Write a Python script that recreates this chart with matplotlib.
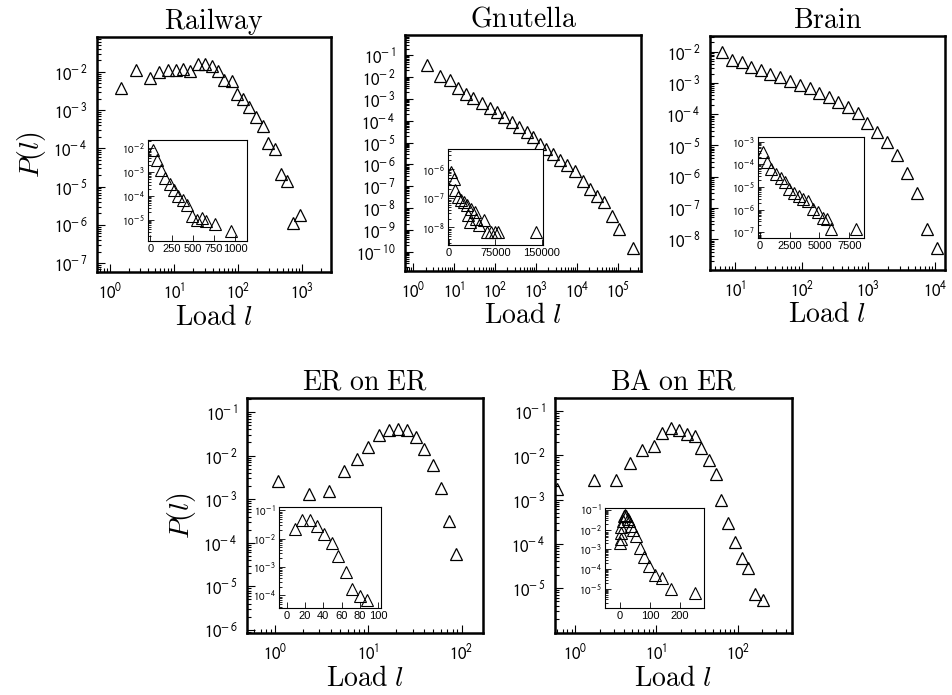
import numpy as np
import matplotlib
matplotlib.use("Agg")
import matplotlib.pyplot as plt
from matplotlib.ticker import FixedLocator, LogLocator, FuncFormatter, NullFormatter, NullLocator

plt.rcParams['mathtext.fontset'] = 'stixsans'
plt.rcParams['font.family'] = ['Liberation Sans', 'DejaVu Sans']

# ---------------- data ----------------
rail_x = [1.52, 2.6, 4.2, 5.9, 8.1, 10.7, 14, 18, 24, 30, 39, 49, 60, 80, 95, 121, 150, 191, 243, 297, 377, 469, 590, 730, 930]
rail_y = [3.7e-3, 1.1e-2, 7.1e-3, 1.0e-2, 1.15e-2, 1.15e-2, 1.2e-2, 1.06e-2, 1.65e-2, 1.65e-2, 1.4e-2, 1.06e-2,
          6.3e-3, 5.8e-3, 2.6e-3, 2.0e-3, 1.17e-3, 6.5e-4, 3.8e-4, 1.35e-4, 9.4e-5, 2.1e-5, 1.44e-5, 1.15e-6, 1.8e-6]
rail_in_x = [31, 79, 119, 178, 230, 277, 329, 388, 436, 495, 555, 607, 658, 765, 952]
rail_in_y = [8.5e-3, 3.3e-3, 1.25e-3, 5.6e-4, 3.2e-4, 1.8e-4, 9.7e-5, 6.4e-5, 4.1e-5, 1.4e-5, 9.4e-6, 1.2e-5,
             8.4e-6, 6.5e-6, 3.2e-6]

gnu_x = [2.15, 4.6, 7.9, 12.7, 19, 29.5, 47, 73, 110, 165, 255, 390, 590, 830, 1210, 1750, 2640, 3870, 5600,
         8950, 13800, 20800, 30300, 45700, 70000, 107000, 230000]
gnu_y = [3.5e-2, 1.1e-2, 7e-3, 3.3e-3, 1.7e-3, 1.14e-3, 6.5e-4, 4e-4, 2.5e-4, 1.5e-4, 8.7e-5, 5.1e-5, 3e-5, 1.8e-5,
         8.3e-6, 4.9e-6, 3.1e-6, 1.65e-6, 9e-7, 5.2e-7, 1.85e-7, 7.7e-8, 3.8e-8, 1.9e-8, 4.6e-9, 1.1e-9, 1.6e-10]
gnu_in_x = [3600, 7800, 10000, 14300, 19500, 23800, 29100, 35500, 41900, 30300, 43500, 34500, 48800, 56800,
            62000, 68400, 73800, 79700, 140800]
gnu_in_y = [8.1e-7, 4.4e-7, 1.9e-7, 1.1e-7, 8.5e-8, 7.4e-8, 5.7e-8, 4.4e-8, 3.4e-8, 2.6e-8, 2e-8, 1.5e-8, 1.17e-8,
            1.74e-8, 6.9e-9, 6.9e-9, 6.9e-9, 6.9e-9, 6.9e-9]

brain_x = [6.3, 8.9, 12.6, 17.4, 24.3, 34, 47, 67, 94, 133, 184, 260, 355, 500, 710, 960, 1360, 1890, 2660, 3850,
           5400, 7500, 10600]
brain_y = [1.0e-2, 5.4e-3, 4.5e-3, 3.3e-3, 2.5e-3, 1.94e-3, 1.5e-3, 1.18e-3, 8.7e-4, 6.8e-4, 4.9e-4, 3.6e-4, 2.5e-4,
           1.66e-4, 1.07e-4, 5.4e-5, 2.8e-5, 1.3e-5, 5e-6, 1.36e-6, 3.1e-7, 2.1e-8, 5.2e-9]
brain_in_x = [238, 595, 952, 1340, 1725, 2083, 2440, 2827, 3274, 3631, 4018, 4465, 4911, 5298, 5655, 5952, 8036]
brain_in_y = [3.4e-4, 1.26e-4, 6.4e-5, 3.9e-5, 2.6e-5, 1.7e-5, 7.9e-6, 5.3e-6, 3.8e-6, 2.9e-6, 2.3e-6, 1.07e-6,
              7.6e-7, 4.3e-7, 3.9e-7, 1.4e-7, 1.4e-7]

erer_x = [1.07, 2.31, 3.79, 5.53, 7.6, 10, 13.1, 16.8, 20.9, 25.7, 32.3, 39.7, 48.9, 59.5, 72.5, 88]
erer_y = [2.6e-3, 1.3e-3, 1.5e-3, 4.5e-3, 8.3e-3, 1.6e-2, 2.9e-2, 3.9e-2, 4.1e-2, 3.8e-2, 2.6e-2, 1.38e-2,
          6.2e-3, 1.85e-3, 3.2e-4, 5.6e-5]
erer_in_x = [9.1, 17, 25.5, 32.8, 40.8, 49.2, 56.4, 64.5, 71.7, 80.1, 87.4]
erer_in_y = [2.2e-2, 4.6e-2, 4.6e-2, 2.7e-2, 1.47e-2, 6.9e-3, 2.5e-3, 6.9e-4, 1.65e-4, 9.1e-5, 7e-5]

baer_x = [0.59, 1.72, 3.13, 4.7, 6.7, 9.3, 11.8, 15, 19, 23.7, 29.6, 35.3, 44.6, 54, 63, 77, 93, 112, 136, 162, 205]
baer_y = [1.7e-3, 2.8e-3, 2.8e-3, 6.6e-3, 1.36e-2, 1.66e-2, 3.2e-2, 4.2e-2, 3.7e-2, 3.1e-2, 2.7e-2, 1.48e-2,
          7.8e-3, 3.7e-3, 9.8e-4, 3.0e-4, 1.12e-4, 4.7e-5, 2.8e-5, 7.4e-6, 5.4e-6]
baer_in_x = [1, 2, 3, 5, 9, 12, 17, 21, 26, 30, 37, 43, 52, 67, 81, 97, 117, 141, 172, 250]
baer_in_y = [2.1e-3, 3.3e-3, 6.6e-3, 1.34e-2, 2.6e-2, 4.6e-2, 5.6e-2, 4.6e-2, 3.4e-2, 2.6e-2, 1.45e-2, 9e-3,
             4.5e-3, 1.2e-3, 4.1e-4, 1.37e-4, 5.3e-5, 3.6e-5, 9.8e-6, 6.2e-6]

titles = ["Railway", "Gnutella", "Brain", "ER on ER", "BA on ER"]

# ---------------- helpers ----------------
def pow_label(v, pos=None):
    e = int(round(np.log10(v)))
    if e < 0:
        return r'$10^{-\,%d}$' % (-e)
    return r'$10^{%d}$' % e

def lin_label(v, pos=None):
    return '%d' % int(round(v))

fig = plt.figure(figsize=(9.52, 6.95), dpi=100)

def main_axes(rect, xs, ys, xlim, ylim, xt, yt, title, ylabel=False):
    ax = fig.add_axes(rect)
    ax.set_xscale('log'); ax.set_yscale('log')
    ax.plot(xs, ys, linestyle='none', marker='^', ms=9, mfc='none', mec='black', mew=0.9, zorder=2)
    ax.set_xlim(10**xlim[0], 10**xlim[1]); ax.set_ylim(10**ylim[0], 10**ylim[1])
    ax.xaxis.set_major_locator(FixedLocator([10.0**e for e in xt]))
    ax.yaxis.set_major_locator(FixedLocator([10.0**e for e in yt]))
    ax.xaxis.set_minor_locator(LogLocator(base=10, subs=np.arange(2, 10), numticks=50))
    ax.yaxis.set_minor_locator(LogLocator(base=10, subs=np.arange(2, 10), numticks=50))
    ax.xaxis.set_major_formatter(FuncFormatter(pow_label))
    ax.yaxis.set_major_formatter(FuncFormatter(pow_label))
    ax.xaxis.set_minor_formatter(NullFormatter()); ax.yaxis.set_minor_formatter(NullFormatter())
    ax.tick_params(which='both', direction='in', top=False, right=False, labelsize=12, width=0.8)
    ax.tick_params(which='major', length=6, pad=7)
    ax.tick_params(which='minor', length=3)
    for s in ax.spines.values():
        s.set_linewidth(1.8)
    ax.set_title(r'$\mathrm{%s}$' % title.replace(' ', r'\ '), fontsize=20, pad=6, math_fontfamily='cm')
    ax.set_xlabel(r'$\mathrm{Load}\ l$', fontsize=20, labelpad=2, math_fontfamily='cm')
    if ylabel:
        ax.set_ylabel(r'$P(l)$', fontsize=20, labelpad=4, math_fontfamily='cm')
    return ax

def inset_axes(rect, xs, ys, xlim, ylim, xt, yt):
    ax = fig.add_axes(rect, zorder=5)
    ax.set_facecolor('white')
    ax.set_yscale('log')
    ax.plot(xs, ys, linestyle='none', marker='^', ms=8, mfc='none', mec='black', mew=0.8)
    ax.set_xlim(*xlim); ax.set_ylim(10**ylim[0], 10**ylim[1])
    ax.xaxis.set_major_locator(FixedLocator(xt))
    ax.yaxis.set_major_locator(FixedLocator([10.0**e for e in yt]))
    ax.yaxis.set_minor_locator(LogLocator(base=10, subs=np.arange(2, 10), numticks=50))
    ax.xaxis.set_minor_locator(NullLocator())
    ax.xaxis.set_major_formatter(FuncFormatter(lin_label))
    ax.yaxis.set_major_formatter(FuncFormatter(pow_label))
    ax.yaxis.set_minor_formatter(NullFormatter())
    ax.tick_params(which='both', direction='in', top=False, right=False, labelsize=8, width=0.6)
    ax.tick_params(which='major', length=4, pad=2)
    ax.tick_params(which='minor', length=2)
    for s in ax.spines.values():
        s.set_linewidth(0.8)
    return ax

W, H = 952.0, 695.0
def rect(x0, y0, x1, y1):
    return [x0 / W, 1 - y1 / H, (x1 - x0) / W, (y1 - y0) / H]

# Railway
main_axes(rect(97, 37, 331, 272), rail_x, rail_y, (-0.2, 3.45), (-7.23, -1.09),
          [0, 1, 2, 3], [-2, -3, -4, -5, -6, -7], titles[0], ylabel=True)
inset_axes(rect(148, 140, 247, 241), rail_in_x, rail_in_y, (-29, 1143), (-5.9, -1.65),
           [0, 250, 500, 750, 1000], [-2, -3, -4, -5])

# Gnutella
main_axes(rect(405, 35, 641, 271), gnu_x, gnu_y, (-0.2, 5.56), (-10.87, -0.08),
          [0, 1, 2, 3, 4, 5], list(range(-1, -11, -1)), titles[1])
inset_axes(rect(448, 149, 543, 245), gnu_in_x, gnu_in_y, (-1500, 152000), (-8.6, -5.32),
           [0, 75000, 150000], [-6, -7, -8])

# Brain
main_axes(rect(710, 36, 945, 270), brain_x, brain_y, (0.625, 4.15), (-8.98, -1.5),
          [1, 2, 3, 4], list(range(-2, -9, -1)), titles[2])
inset_axes(rect(758, 137, 864, 238), brain_in_x, brain_in_y, (-180, 8750), (-7.25, -2.8),
           [0, 2500, 5000, 7500], [-3, -4, -5, -6, -7])

# ER on ER
main_axes(rect(247, 398, 483, 633), erer_x, erer_y, (-0.3, 2.23), (-6.07, -0.68),
          [0, 1, 2], list(range(-1, -7, -1)), titles[3], ylabel=True)
inset_axes(rect(279, 507, 381, 608), erer_in_x, erer_in_y, (-8.4, 103), (-4.45, -0.88),
           [0, 20, 40, 60, 80, 100], [-1, -2, -3, -4])

# BA on ER
main_axes(rect(555, 398, 792, 633), baer_x, baer_y, (-0.25, 2.67), (-6.02, -0.7),
          [0, 1, 2], list(range(-1, -6, -1)), titles[4])
inset_axes(rect(605, 508, 704, 608), baer_in_x, baer_in_y, (-50, 281), (-5.96, -0.91),
           [0, 100, 200], [-1, -2, -3, -4, -5])

fig.savefig("out.png", dpi=100)
